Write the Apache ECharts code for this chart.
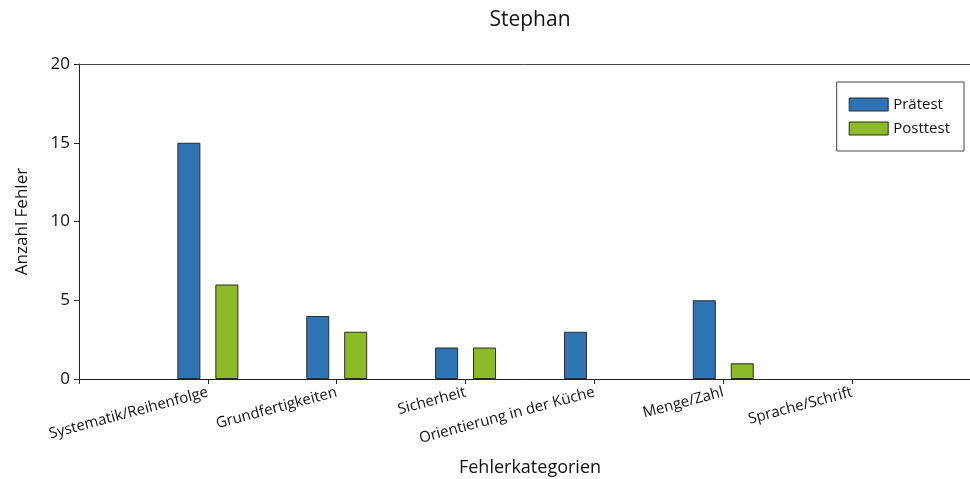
<!DOCTYPE html>
<html>
<head>
<meta charset="utf-8">
<script src="https://cdn.jsdelivr.net/npm/echarts@6/dist/echarts.min.js"></script>
<style>
  html, body { margin: 0; padding: 0; background: #fff; }
  #chart { width: 970px; height: 479px; }
</style>
</head>
<body>
<div id="chart"></div>
<script>
// categories (leading and trailing blanks keep the ticks where the original has them)
var categories = ['', 'Systematik/Reihenfolge', 'Grundfertigkeiten', 'Sicherheit',
                  'Orientierung in der Küche', 'Menge/Zahl', 'Sprache/Schrift', ''];
var praetest = [null, 15, 4, 2, 3, 5, 0, null];
var posttest = [null, 6, 3, 2, 0, 1, 0, null];
var yTicks = { min: 0, max: 20, interval: 5 };

var font = '"Open Sans", "Noto Sans", sans-serif';

// zero bars get no outline, so nothing shows on the axis
function barData(arr) {
  return arr.map(function (v) {
    return v === 0 ? { value: 0, itemStyle: { borderWidth: 0 } } : v;
  });
}

var chart = echarts.init(document.getElementById('chart'), null, { renderer: 'canvas' });

chart.setOption({
  animation: false,
  textStyle: { fontFamily: font },
  title: {
    text: 'Stephan',
    left: 525, top: 5,
    textAlign: 'center',
    textStyle: { fontFamily: font, fontSize: 21, fontWeight: 'normal', color: '#111' }
  },
  legend: {
    orient: 'vertical',
    right: 6, top: 82,
    icon: 'rect',
    itemWidth: 39, itemHeight: 13, itemGap: 9,
    padding: [15, 14, 15, 12],
    borderColor: '#444', borderWidth: 1,
    itemStyle: { borderWidth: 1, borderColor: '#2b2b2b' },
    textStyle: { fontFamily: font, fontSize: 15, color: '#111' },
    data: ['Prätest', 'Posttest']
  },
  grid: { left: 79, top: 64, height: 315, width: 902, containLabel: false, outerBoundsMode: 'none' },
  xAxis: [{
    type: 'category',
    data: categories,
    boundaryGap: false,
    name: 'Fehlerkategorien',
    nameLocation: 'middle',
    nameGap: 80,
    nameTextStyle: { fontFamily: font, fontSize: 18, color: '#111' },
    axisLine: { lineStyle: { color: '#222', width: 1 } },
    axisTick: { show: true, length: 5, inside: false, interval: 0, lineStyle: { color: '#222' } },
    axisLabel: { rotate: 15, interval: 0, margin: 13, fontFamily: font, fontSize: 15, color: '#111' },
    splitLine: { show: false }
  }, {
    type: 'category',
    data: categories,
    position: 'top',
    boundaryGap: false,
    axisLine: { lineStyle: { color: '#444', width: 1 } },
    axisTick: { show: false },
    axisLabel: { show: false }
  }],
  yAxis: {
    type: 'value',
    min: yTicks.min, max: yTicks.max, interval: yTicks.interval,
    name: 'Anzahl Fehler',
    nameLocation: 'middle',
    nameGap: 48,
    nameTextStyle: { fontFamily: font, fontSize: 17, color: '#111' },
    axisLine: { show: true, lineStyle: { color: '#222', width: 1 } },
    axisTick: { show: true, length: 5, lineStyle: { color: '#222' } },
    axisLabel: { margin: 9, fontFamily: font, fontSize: 17, color: '#111' },
    splitLine: { show: false }
  },
  series: [{
    name: 'Prätest',
    type: 'bar',
    data: barData(praetest),
    barWidth: 23,
    barGap: '65%',
    itemStyle: { color: '#2E73B3', borderColor: '#2b2b2b', borderWidth: 1 }
  }, {
    name: 'Posttest',
    type: 'bar',
    data: barData(posttest),
    barWidth: 23,
    barGap: '65%',
    itemStyle: { color: '#8DBB28', borderColor: '#2b2b2b', borderWidth: 1 }
  }]
});
</script>
</body>
</html>
